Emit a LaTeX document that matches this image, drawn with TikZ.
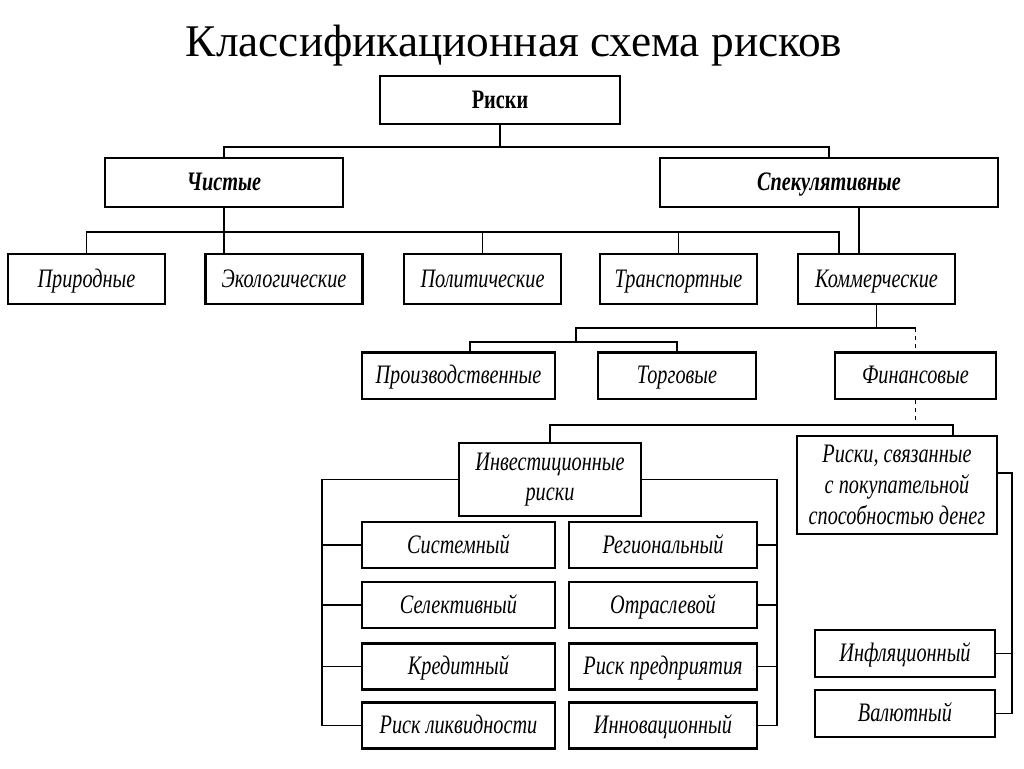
\documentclass[tikz,border=0pt]{standalone}
\usepackage{fontspec}
\setmainfont{Liberation Serif}
\newfontfamily\boxfont[FakeStretch=0.76]{Liberation Serif}

\tikzset{
  box/.style={draw, line width=2pt, inner sep=1pt,
    font=\boxfont\itshape\fontsize{20}{23}\selectfont},
  multi/.style={box, align=center},
  one/.style={box, text height=15pt, text depth=3pt},
  head/.style={one, font=\boxfont\bfseries\itshape\fontsize{20}{23}\selectfont},
  rowbox/.style={one, minimum width=117.75pt, minimum height=37.5pt},
  subbox/.style={one, minimum height=35pt},
  colbox/.style={one, minimum height=34.5pt},
  line/.style={line width=0.9pt},
}

\begin{document}
\begin{tikzpicture}[x=0.75pt,y=0.75pt,yscale=-1,xscale=1]
\useasboundingbox (0,0) rectangle (1024,768);

% title
\node (title) at (514,46) {\fontsize{34}{40}\selectfont Классификационная схема рисков};

% top levels
\node[head, font=\boxfont\bfseries\fontsize{20}{23}\selectfont, minimum width=180pt, minimum height=36pt] (riski) at (500,100) {Риски};
\node[head, minimum width=178.5pt, minimum height=36.75pt] (chistye) at (224,182.5) {Чистые};
\node[head, minimum width=253.5pt, minimum height=36.75pt] (spek) at (829,182.5) {Спекулятивные};

% third row
\node[rowbox] (prirod) at (86.5,279) {Природные};
\node[rowbox] (ekol) at (284,279) {Экологические};
\node[rowbox] (polit) at (482.5,279) {Политические};
\node[rowbox] (transp) at (678.5,279) {Транспортные};
\node[rowbox] (kommer) at (876.5,279) {Коммерческие};

% commercial
\node[subbox, minimum width=144.75pt] (proizv) at (458.5,375.5) {Производственные};
\node[subbox, minimum width=118.5pt] (torg) at (677,375.5) {Торговые};
\node[subbox, minimum width=120.75pt] (finans) at (915.5,375.5) {Финансовые};

% financial
\node[multi, minimum width=136.5pt, minimum height=54.75pt] (invest) at (550,479.5) {Инвестиционные\\риски};
\node[multi, minimum width=150pt, minimum height=73.5pt] (svyaz) at (897,485) {Риски, связанные\\с покупательной\\способностью денег};

% investment, left column
\node[colbox, minimum width=144.75pt] (sistem) at (458.5,545) {Системный};
\node[colbox, minimum width=144.75pt] (selekt) at (458.5,605) {Селективный};
\node[colbox, minimum width=144.75pt] (kredit) at (458.5,666.5) {Кредитный};
\node[colbox, minimum width=144.75pt] (likvid) at (458.5,725.5) {Риск ликвидности};

% investment, right column
\node[colbox, minimum width=141pt] (region) at (663,545) {Региональный};
\node[colbox, minimum width=141pt] (otrasl) at (663,605) {Отраслевой};
\node[colbox, minimum width=141pt] (predpr) at (663,666.5) {Риск предприятия};
\node[colbox, minimum width=141pt] (innov) at (663,725.5) {Инновационный};

% purchasing power
\node[colbox, minimum width=135pt, minimum height=35.25pt] (infl) at (905,653.5) {Инфляционный};
\node[colbox, minimum width=135pt, minimum height=35.25pt] (valyut) at (905,713.5) {Валютный};

% connectors
\coordinate (j0) at (500,147);
\draw[line] (riski.south) -- (j0);
\draw[line] (chistye.north) |- (j0) -| (spek.north);

\coordinate (r3) at (839,232);
\coordinate (sk) at ([xshift=22.5pt]spek.south);
\draw[line] (prirod.north) |- (r3) -- (r3 |- kommer.north);
\draw[line] (chistye.south) -- (chistye.south |- ekol.north);
\draw[line] (polit.north) -- (polit.north |- r3);
\draw[line] (transp.north) -- (transp.north |- r3);
\draw[line] (sk) -- (sk |- kommer.north);

\coordinate (k1) at (576,328);
\coordinate (k2) at (576,342);
\coordinate (p1) at (470,342);
\draw[line] (kommer.south) |- (k1) -- (k2);
\draw[line] (p1 |- proizv.north) -- (p1) -- (torg.north |- p1) -- (torg.north);
\draw[line] (kommer.south |- k1) -- (finans.north |- k1);
\draw[line, dashed] (finans.north |- k1) -- (finans.north);

\coordinate (f1) at (550,425);
\coordinate (f2) at (953,425);
\draw[line, dashed] (finans.south) -- (finans.south |- f1);
\draw[line] (invest.north) -- (f1) -- (f2) -- (f2 |- svyaz.north);

\coordinate (il) at (322,725.5);
\coordinate (ir) at (777,725.5);
\draw[line] (invest.west) -| (il) -- (likvid.west);
\draw[line] (sistem.west) -- (sistem.west -| il);
\draw[line] (selekt.west) -- (selekt.west -| il);
\draw[line] (kredit.west) -- (kredit.west -| il);
\draw[line] (invest.east) -| (ir) -- (innov.east);
\draw[line] (region.east) -- (region.east -| ir);
\draw[line] (otrasl.east) -- (otrasl.east -| ir);
\draw[line] (predpr.east) -- (predpr.east -| ir);

\coordinate (sv) at (1012,473);
\draw[line] (svyaz.east |- sv) -- (sv) |- (valyut.east);
\draw[line] (infl.east) -- (infl.east -| sv);
\end{tikzpicture}
\end{document}
